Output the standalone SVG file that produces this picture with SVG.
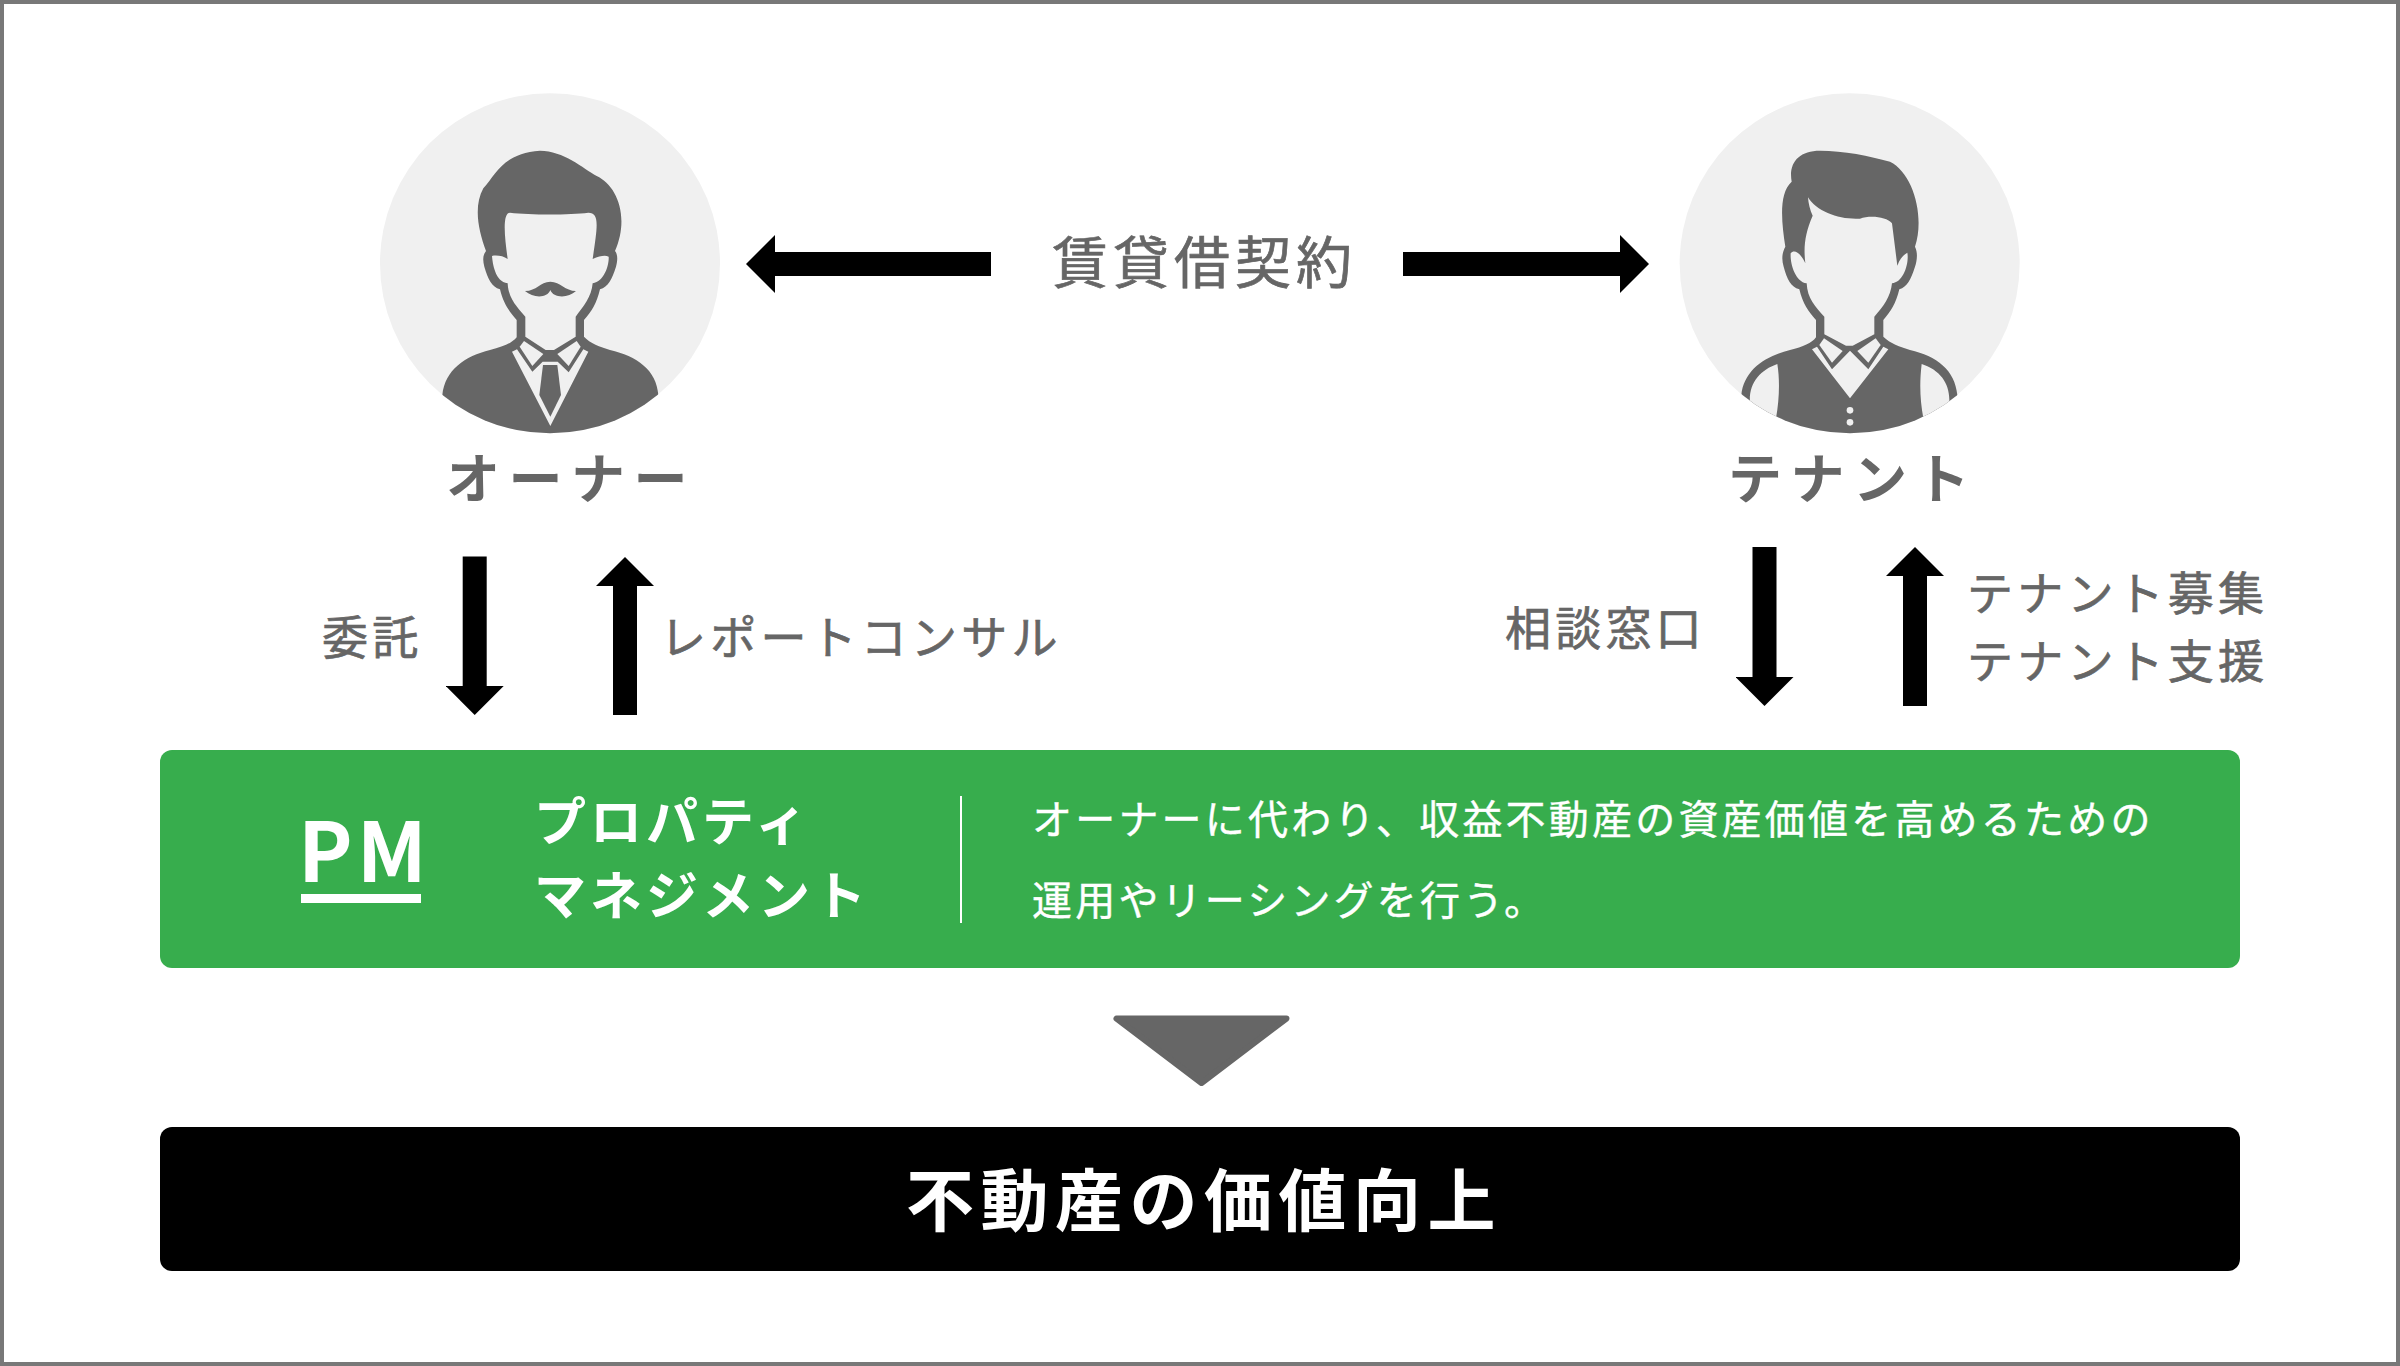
<svg xmlns="http://www.w3.org/2000/svg" width="2400" height="1366" viewBox="0 0 2400 1366">
<style>
text{font-family:"Noto Sans CJK JP","Noto Sans",sans-serif;}
.g{fill:#666666}.l{fill:#f0f0f0}.w{fill:#ffffff}
.lab{font-size:46px;letter-spacing:4.2px;fill:#666666;stroke:#666666;stroke-width:.7px}
.name{font-size:54px;font-weight:700;letter-spacing:8.500px;fill:#666666}
.ar{stroke:#000;stroke-width:24;fill:none}
.pmt{font-size:52px;font-weight:700;letter-spacing:4px;fill:#fff}
.desc{font-size:40px;letter-spacing:3.2px;fill:#fff;stroke:#fff;stroke-width:.4px}
</style>
<defs>
<marker id="head" markerUnits="userSpaceOnUse" markerWidth="30" markerHeight="58" refX="0" refY="29" orient="auto"><path d="M0 0L29 29L0 58Z" fill="#000"/></marker>
<clipPath id="cc"><circle cx="540" cy="520" r="510"/></clipPath>
</defs>
<rect x="2" y="2" width="2396" height="1362" fill="#fff" stroke="#787878" stroke-width="4"/>
<g id="connectors">
<line class="ar" x1="991" y1="264" x2="775" y2="264" marker-end="url(#head)"/>
<line class="ar" x1="1403" y1="264" x2="1620" y2="264" marker-end="url(#head)"/>
<line class="ar" x1="474.7" y1="556.5" x2="474.7" y2="686" marker-end="url(#head)"/>
<line class="ar" x1="625" y1="715" x2="625" y2="586" marker-end="url(#head)"/>
<line class="ar" x1="1764.5" y1="547" x2="1764.5" y2="677" marker-end="url(#head)"/>
<line class="ar" x1="1915" y1="706" x2="1915" y2="576" marker-end="url(#head)"/>
</g>
<g id="owner">
<g transform="translate(370 90) scale(.33333)">
<circle class="l" cx="540" cy="520" r="510"/>
<g clip-path="url(#cc)">
<path class="g" d="M348 483C325 420 310 350 340 295C380 250 400 190 510 182C580 182 640 235 680 258C740 285 780 380 735 483C745 495 742 515 738 530C725 570 715 590 690 598C680 640 665 665 642 690V740C660 760 690 770 720 780C800 798 860 840 865 915V1040H217V915C225 840 285 798 360 780C400 770 425 760 440 742V690C418 665 400 640 390 598C365 590 355 570 343 530C338 510 338 495 348 483Z"/>
<path class="l" d="M413 507C405 450 395 368 420 368C480 375 600 375 655 368C690 368 682 410 668 507C690 498 705 495 716 500C718 520 705 575 668 580C665 620 640 650 617 680V740L552 780H527L466 740V680C440 650 415 625 413 580C375 575 368 520 366 498C380 495 400 498 413 507Z"/>
<path class="l" d="M426 785L441 778L487 845L518 815H563L596 847L640 778L655 785L541 1008Z"/>
<path class="g" d="M519 825H562L573 915L541 980L508 915Z"/>
<path class="l" d="M462 753L520 792L487 828L449 770Z"/>
<path class="l" d="M620 753L562 792L596 828L632 770Z"/>
<path class="g" d="M465 603C500 603 510 575 541 575C572 575 585 603 618 603C595 625 550 625 541 600C532 625 490 625 465 603Z"/>
</g></g>
<text class="name" x="446" y="499">オーナー</text>
</g>
<g id="tenant">
<g transform="translate(1670 90) scale(.33333)">
<circle class="l" cx="539" cy="520" r="510"/>
<g clip-path="url(#cc)">
<path class="g" d="M346 470C335 400 325 310 365 275C355 220 385 182 450 182C520 182 600 198 660 215C730 250 765 380 735 470C745 490 740 515 735 530C722 570 712 590 688 598C678 640 662 665 640 690V740C660 760 690 770 720 780C800 798 855 840 862 915V1040H214V915C222 840 285 798 360 780C400 770 425 760 438 742V690C415 665 398 640 388 598C362 590 352 570 341 530C335 510 335 490 346 470Z"/>
<path class="l" d="M406 520C400 470 405 430 428 377C420 360 415 340 414 322C440 365 510 390 570 386C600 375 650 380 666 400L682 527C690 505 700 495 712 488C718 520 700 578 666 580C662 620 640 650 613 680V733L548 767H528L463 733V680C435 650 412 625 410 580C375 575 360 520 362 490C375 475 395 495 406 520Z"/>
<path class="l" d="M426 778L441 770L486 838L540 782L595 838L640 770L655 778L540 925Z"/>
<path class="l" d="M462 745L518 783L486 818L448 765Z"/>
<path class="l" d="M617 745L562 783L595 818L632 765Z"/>
<path class="l" d="M322 822C330 870 328 930 318 985L318 1040H240V940C235 880 270 840 322 822Z"/>
<path class="l" d="M755 822C748 880 750 930 760 985V1040H838V935C840 880 810 840 755 822Z"/>
<circle class="l" cx="540" cy="961" r="10"/>
<circle class="l" cx="540" cy="997" r="10"/>
</g></g>
<text class="name" x="1728" y="499">テナント</text>
</g>
<g id="contract"><text class="lab" x="1052" y="283" style="font-size:56px;letter-spacing:5px">賃貸借契約</text></g>
<g id="label-itaku"><text class="lab" x="322" y="654">委託</text></g>
<g id="label-report"><text class="lab" x="660" y="654">レポートコンサル</text></g>
<g id="label-soudan"><text class="lab" x="1505" y="645">相談窓口</text></g>
<g id="label-tenant">
<text class="lab" x="1967" y="610">テナント募集</text>
<text class="lab" x="1967" y="678">テナント支援</text>
</g>
<g id="pm">
<rect x="160" y="750" width="2080" height="218" rx="12" fill="#37ad4d"/>
<text x="298" y="882" font-size="82" font-weight="700" letter-spacing="4" fill="#fff">PM</text>
<rect class="w" x="301" y="894" width="120" height="9"/>
<text class="pmt" x="534" y="841">プロパティ</text>
<text class="pmt" x="534" y="915">マネジメント</text>
<rect class="w" x="960" y="796" width="2" height="127"/>
<text class="desc" x="1032" y="834">オーナーに代わり、収益不動産の資産価値を高めるための</text>
<text class="desc" x="1032" y="915">運用やリーシングを行う。</text>
</g>
<g id="down-triangle"><path class="g" stroke="#666" stroke-width="6" stroke-linejoin="round" d="M1116.500 1018.500H1286.500L1201.500 1083Z"/></g>
<g id="value">
<rect x="160" y="1127" width="2080" height="144" rx="12" fill="#000"/>
<text x="906" y="1226" font-size="68" font-weight="700" letter-spacing="6.5" fill="#fff">不動産の価値向上</text>
</g>
</svg>
